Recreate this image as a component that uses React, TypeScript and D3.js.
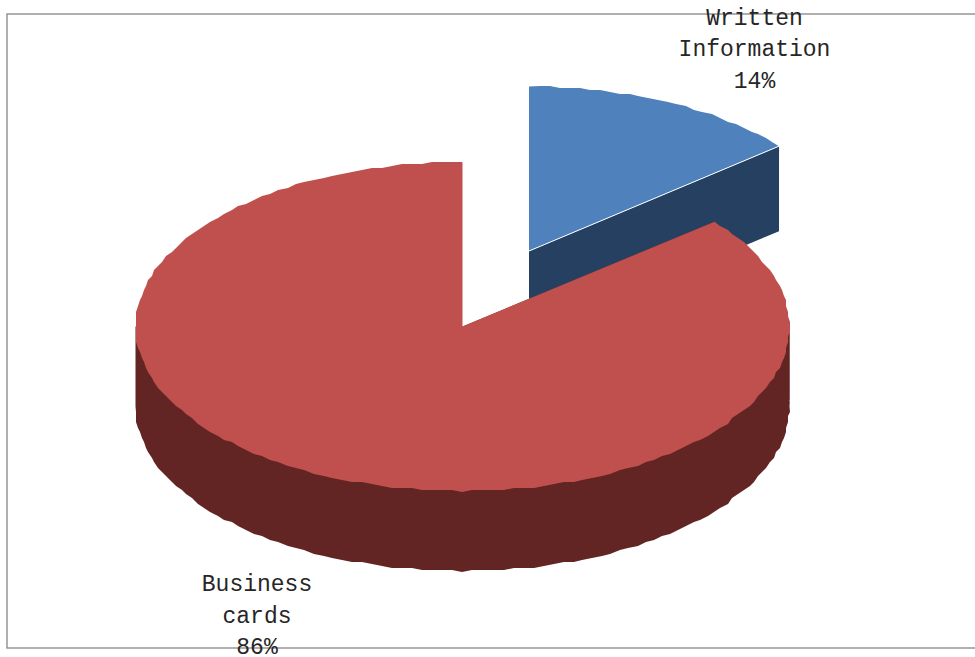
import React from "react";
import * as d3 from "d3";

const categories = ["Written Information", "Business cards"];
const shares = [14, 86];
const labelLines = [
  ["Written", "Information", "14%"],
  ["Business", "cards", "86%"],
];
const topColors = ["#4F81BD", "#C0504D"];
const wallColors = ["#254061", "#632523"];

const width = 975;
const height = 657;
const radiiX = [324.5, 327];
const radiusY = 164.5;
const depths = [85, 80];
const centers = [
  { x: 529, y: 251 },
  { x: 462.5, y: 326.5 },
];
const labelAnchors = [
  { x: 754.5, y: 24.5 },
  { x: 257, y: 591 },
];
const lineGap = 31.7;
const snap = 2;

const pie = d3.pie<number>().sort(null).startAngle(0).endAngle(2 * Math.PI);
const arcs = pie(shares);

const outline = d3.line<[number, number]>();

// Tilted circle: angle 0 points up the page and runs clockwise.
function project(i: number, angle: number): [number, number] {
  const c = centers[i];
  const sx = d3.scaleLinear().domain([-1, 1]).range([c.x - radiiX[i], c.x + radiiX[i]]);
  const sy = d3.scaleLinear().domain([-1, 1]).range([c.y - radiusY, c.y + radiusY]);
  return [sx(Math.sin(angle)), sy(-Math.cos(angle))];
}

// Rim points are coarsely quantised, which gives the curve its stepped edge.
function rim(i: number, a0: number, a1: number): [number, number][] {
  const n = Math.max(2, Math.round((a1 - a0) / (Math.PI / 100)));
  return d3.range(n + 1).map((k) => {
    const [x, y] = project(i, a0 + ((a1 - a0) * k) / n);
    if (k === 0 || k === n) return [x, y];
    return [Math.round(x / snap) * snap, Math.round(y / snap) * snap];
  });
}

function wedge(i: number): string {
  const { startAngle, endAngle } = arcs[i];
  const c = centers[i];
  return outline([[c.x, c.y], ...rim(i, startAngle, endAngle)]) + "Z";
}

// Slab side: the rim swept down by the depth, filled through the centre so no seam shows under the top.
function sideWall(i: number, a0: number, a1: number): string {
  const c = centers[i];
  const top = rim(i, a0, a1);
  const bottom = top.map(([x, y]) => [x, y + depths[i]] as [number, number]);
  return outline([[c.x, c.y], top[0], ...bottom, top[top.length - 1]]) + "Z";
}

// Flat cut face running from the centre out to the given rim angle.
function cutFace(i: number, angle: number): string {
  const c = centers[i];
  const p = project(i, angle);
  return (
    outline([
      [c.x, c.y],
      p,
      [p[0], p[1] + depths[i]],
      [c.x, c.y + depths[i]],
    ]) + "Z"
  );
}

function Label({ lines, anchor }: { lines: string[]; anchor: { x: number; y: number } }) {
  return (
    <>
      {lines.map((line, row) => (
        <text
          key={line}
          x={anchor.x}
          y={anchor.y + row * lineGap}
          textAnchor="middle"
          fontFamily="'Liberation Mono', monospace"
          fontSize={23}
          fill="#262626"
        >
          {line}
        </text>
      ))}
    </>
  );
}

export default function App() {
  const blue = arcs[0];
  const red = arcs[1];
  const blueEdge = project(0, blue.endAngle);
  return (
    <svg
      width={width}
      height={height}
      viewBox={`0 0 ${width} ${height}`}
      role="img"
      aria-label={categories.join(", ")}
      style={{ position: "absolute", left: 0, top: 0, background: "#fff" }}
    >
      <rect x={7} y={14} width={width + 20} height={634} fill="#fff" stroke="#868686" strokeWidth={1.3} />

      <path d={cutFace(0, blue.endAngle)} fill={wallColors[0]} />
      <path d={wedge(0)} fill={topColors[0]} />
      <line
        x1={centers[0].x}
        y1={centers[0].y}
        x2={blueEdge[0]}
        y2={blueEdge[1]}
        stroke="#fff"
        strokeWidth={1}
      />

      <path d={sideWall(1, Math.PI / 2, (3 * Math.PI) / 2)} fill={wallColors[1]} />
      <path d={sideWall(1, red.startAngle, Math.PI / 2)} fill={wallColors[1]} />
      <path d={wedge(1)} fill={topColors[1]} />

      {labelLines.map((lines, i) => (
        <Label key={categories[i]} lines={lines} anchor={labelAnchors[i]} />
      ))}
    </svg>
  );
}
